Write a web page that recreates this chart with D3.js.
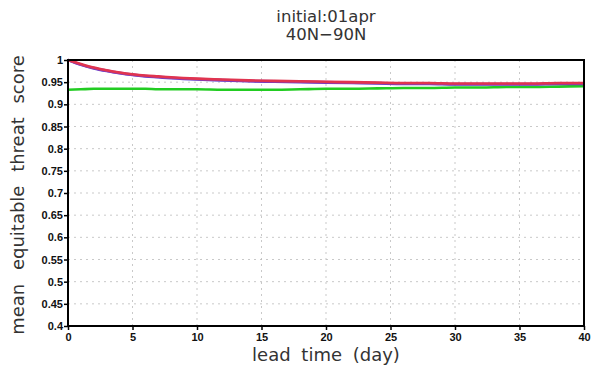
<!DOCTYPE html>
<html><head><meta charset="utf-8">
<script src="https://cdn.jsdelivr.net/npm/d3@7"></script>
<style>body{margin:0;background:#fff}svg{display:block}</style>
</head><body>
<script>
const days      = [0,1,2,3,4,5,6,7,8,10,12,14,16,18,20,22,24,26,28,30,32,34,36,38,40];
const redVals   = [1.0,0.991,0.983,0.977,0.972,0.968,0.965,0.963,0.961,0.958,0.956,0.954,0.953,0.952,0.951,0.950,0.949,0.948,0.948,0.947,0.947,0.947,0.947,0.948,0.948];
const purpleVals= [1.0,0.990,0.982,0.976,0.971,0.967,0.964,0.962,0.960,0.957,0.955,0.953,0.952,0.951,0.950,0.949,0.948,0.947,0.947,0.946,0.946,0.946,0.946,0.947,0.947];
const blueVals  = [1.0,0.989,0.981,0.975,0.970,0.966,0.963,0.961,0.959,0.956,0.954,0.952,0.951,0.950,0.949,0.948,0.947,0.946,0.946,0.945,0.945,0.945,0.945,0.946,0.946];
const greenVals = [0.933,0.934,0.935,0.935,0.935,0.935,0.935,0.934,0.934,0.934,0.933,0.933,0.933,0.934,0.935,0.935,0.936,0.937,0.937,0.938,0.938,0.939,0.939,0.940,0.941];
const xTicks = [0,5,10,15,20,25,30,35,40];
const yTicks = [0.4,0.45,0.5,0.55,0.6,0.65,0.7,0.75,0.8,0.85,0.9,0.95,1];
const titleLines = ["initial:01apr","40N\u221290N"];
const xLabel = "lead time (day)";
const yLabel = "mean equitable threat score";

const W=599,H=381, L=68,R=584,T=60,B=326;
const svg=d3.select("body").append("svg").attr("width",W).attr("height",H);
const x=d3.scaleLinear().domain([0,40]).range([L,R]);
const y=d3.scaleLinear().domain([0.4,1]).range([B,T]);

// grid
svg.append("g").selectAll("line").data(xTicks.slice(1,-1)).join("line")
  .attr("x1",d=>x(d)).attr("x2",d=>x(d)).attr("y1",T).attr("y2",B)
  .attr("stroke","#bbb").attr("stroke-width",0.8).attr("stroke-dasharray","2,4");
svg.append("g").selectAll("line").data(yTicks.slice(1,-1)).join("line")
  .attr("y1",d=>y(d)).attr("y2",d=>y(d)).attr("x1",L).attr("x2",R)
  .attr("stroke","#bbb").attr("stroke-width",0.8).attr("stroke-dasharray","2,4");

// lines
const line=vals=>d3.line().x((d,i)=>x(days[i])).y(d=>y(d)).curve(d3.curveMonotoneX)(vals);
const series=[[greenVals,"#22cc22"],[blueVals,"#5a3fd0"],[purpleVals,"#9b3aa8"],[redVals,"#e0344f"]];
series.forEach(([v,c])=>svg.append("path").attr("d",line(v)).attr("fill","none").attr("stroke",c).attr("stroke-width",2.6));

// axes
const fmt=d=>d3.format("~g")(d);
const xa=svg.append("g").attr("transform",`translate(0,${B})`).call(d3.axisBottom(x).tickValues(xTicks).tickSize(4).tickFormat(fmt));
const ya=svg.append("g").attr("transform",`translate(${L},0)`).call(d3.axisLeft(y).tickValues(yTicks).tickSize(4).tickFormat(fmt));
[xa,ya].forEach(a=>{a.select(".domain").remove();a.selectAll("line").attr("stroke","#000").attr("stroke-width",1.5);
  a.selectAll("text").attr("font-family","Liberation Sans, Arial, sans-serif").attr("font-size",11).attr("font-weight","bold").attr("fill","#111");});
ya.selectAll("text").attr("x",-5);
xa.selectAll("text").attr("y",7);

// frame
svg.append("rect").attr("x",L).attr("y",T).attr("width",R-L).attr("height",B-T)
  .attr("fill","none").attr("stroke","#000").attr("stroke-width",2);

// titles
svg.append("g").selectAll("text").data(titleLines).join("text")
  .attr("x",(L+R)/2).attr("y",(d,i)=>22+i*18).attr("text-anchor","middle")
  .attr("font-family","DejaVu Sans, sans-serif").attr("font-size",16.5).attr("fill","#333").text(d=>d);
svg.append("text").attr("x",(L+R)/2).attr("y",361).attr("text-anchor","middle")
  .attr("font-family","DejaVu Sans, sans-serif").attr("font-size",18).attr("word-spacing",5).attr("fill","#333").text(xLabel);
svg.append("text").attr("transform",`translate(24,${(T+B)/2+2}) rotate(-90)`).attr("text-anchor","middle")
  .attr("font-family","DejaVu Sans, sans-serif").attr("font-size",18).attr("word-spacing",8).attr("fill","#333").text(yLabel);
</script>
</body></html>
